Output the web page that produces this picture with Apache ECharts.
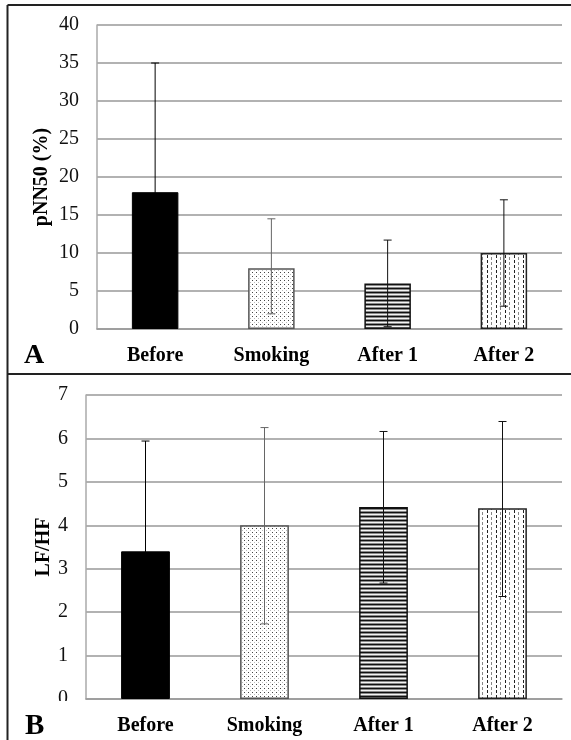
<!DOCTYPE html>
<html>
<head>
<meta charset="utf-8">
<script src="https://cdn.jsdelivr.net/npm/echarts@6/dist/echarts.min.js"></script>
<style>
html,body{margin:0;padding:0;background:#fff;}
#chart{width:571px;height:740px;}
</style>
</head>
<body>
<div id="chart"></div>
<script>
// ---- data ----
var categories = ['Before', 'Smoking', 'After 1', 'After 2'];
var pnn50Mean  = [18, 8, 6, 10];
var pnn50Upper = [35, 14.5, 11.7, 17];
var pnn50Lower = [1, 2, 0.3, 3];
var lfhfMean   = [3.4, 4.0, 4.42, 4.39];
var lfhfUpper  = [5.94, 6.25, 6.16, 6.39];
var lfhfLower  = [0.86, 1.73, 2.67, 2.36];
var yAxisA = {min: 0, max: 40, interval: 5, name: 'pNN50 (%)'};
var yAxisB = {min: 0, max: 7, interval: 1, name: 'LF/HF'};

// ---- patterns ----
function tile(w, h, draw) {
  var c = document.createElement('canvas');
  c.width = w; c.height = h;
  var ctx = c.getContext('2d');
  ctx.fillStyle = '#fff'; ctx.fillRect(0, 0, w, h);
  draw(ctx);
  return {image: c, repeat: 'repeat'};
}
var dotPattern = tile(4, 4, function (ctx) {
  ctx.fillStyle = '#444'; ctx.fillRect(0, 0, 1, 1);
  ctx.fillStyle = '#bbb'; ctx.fillRect(2, 2, 1, 1);
});
var stripePattern = tile(1, 4, function (ctx) {
  ctx.fillStyle = '#111'; ctx.fillRect(0, 0, 1, 1);
  ctx.fillStyle = '#8a8a8a'; ctx.fillRect(0, 1, 1, 1);
  ctx.fillStyle = '#f4f4f4'; ctx.fillRect(0, 2, 1, 1);
  ctx.fillStyle = '#8a8a8a'; ctx.fillRect(0, 3, 1, 1);
});
var dashPattern = tile(9, 5, function (ctx) {
  ctx.fillStyle = '#222'; ctx.fillRect(1, 0, 1, 3);
  ctx.fillStyle = '#888'; ctx.fillRect(5, 2, 1, 3);
});
var barStyles = [
  {color: '#000', borderColor: '#000', borderWidth: 1},
  {color: dotPattern, borderColor: '#555', borderWidth: 1.5},
  {color: stripePattern, borderColor: '#111', borderWidth: 1.5},
  {color: dashPattern, borderColor: '#222', borderWidth: 1.5}
];
var errColors = ['#000', '#666', '#111', '#111'];

function barData(vals) {
  return vals.map(function (v, i) { return {value: v, itemStyle: barStyles[i]}; });
}
function errData(lo, hi) {
  return lo.map(function (l, i) { return [i, l, hi[i]]; });
}
function renderErr(params, api) {
  var i = api.value(0);
  var lo = api.coord([i, api.value(1)]);
  var hi = api.coord([i, api.value(2)]);
  var hw = 4;
  var st = {stroke: errColors[i], lineWidth: 1};
  return {
    type: 'group',
    children: [
      {type: 'line', shape: {x1: lo[0], y1: lo[1], x2: hi[0], y2: hi[1]}, style: st},
      {type: 'line', shape: {x1: hi[0] - hw, y1: hi[1], x2: hi[0] + hw, y2: hi[1]}, style: st},
      {type: 'line', shape: {x1: lo[0] - hw, y1: lo[1], x2: lo[0] + hw, y2: lo[1]}, style: st}
    ]
  };
}

var font = 'Liberation Serif';
function xAxisCfg(gi, margin) {
  return {
    type: 'category', gridIndex: gi, data: categories,
    axisLine: {lineStyle: {color: '#999', width: 1.5}},
    axisTick: {show: false},
    axisLabel: {color: '#000', fontFamily: font, fontWeight: 'bold', fontSize: 20, margin: margin}
  };
}
function yAxisCfg(gi, cfg, nameGap) {
  return {
    type: 'value', gridIndex: gi, min: cfg.min, max: cfg.max, interval: cfg.interval,
    name: cfg.name, nameLocation: 'middle', nameRotate: 90, nameGap: nameGap,
    nameMoveOverlap: false,
    nameTextStyle: {color: '#000', fontFamily: font, fontWeight: 'bold', fontSize: 20},
    axisLine: {show: true, lineStyle: {color: '#aaa', width: 1.5}},
    axisTick: {show: false},
    splitLine: {lineStyle: {color: '#999', width: 1.5}},
    axisLabel: {color: '#111', fontFamily: font, fontSize: 20, margin: 18}
  };
}

var chart = echarts.init(document.getElementById('chart'), null, {renderer: 'canvas'});
chart.setOption({
  backgroundColor: '#fff',
  animation: false,
  grid: [
    {left: 97, top: 25, width: 465, height: 304},
    {left: 86, top: 395, width: 476, height: 304}
  ],
  xAxis: [xAxisCfg(0, 17), xAxisCfg(1, 17)],
  yAxis: [yAxisCfg(0, yAxisA, 45), yAxisCfg(1, yAxisB, 32)],
  series: [
    {type: 'bar', xAxisIndex: 0, yAxisIndex: 0, barWidth: '40%', data: barData(pnn50Mean)},
    {type: 'custom', xAxisIndex: 0, yAxisIndex: 0, renderItem: renderErr, data: errData(pnn50Lower, pnn50Upper), z: 5},
    {type: 'bar', xAxisIndex: 1, yAxisIndex: 1, barWidth: '41%', data: barData(lfhfMean)},
    {type: 'custom', xAxisIndex: 1, yAxisIndex: 1, renderItem: renderErr, data: errData(lfhfLower, lfhfUpper), z: 5}
  ],
  graphic: [
    {type: 'line', shape: {x1: 7.5, y1: 5, x2: 571, y2: 5}, style: {stroke: '#222', lineWidth: 2}},
    {type: 'line', shape: {x1: 7.5, y1: 5, x2: 7.5, y2: 740}, style: {stroke: '#222', lineWidth: 2}},
    {type: 'line', shape: {x1: 7.5, y1: 374, x2: 571, y2: 374}, style: {stroke: '#222', lineWidth: 2}},
    {type: 'rect', shape: {x: 40, y: 701, width: 42, height: 12}, style: {fill: '#fff'}, z: 100},
    {type: 'text', left: 24, top: 342, style: {text: 'A', fontFamily: font, fontWeight: 'bold', fontSize: 28, fill: '#000'}},
    {type: 'text', left: 25, top: 712, style: {text: 'B', fontFamily: font, fontWeight: 'bold', fontSize: 29, fill: '#000'}}
  ]
});
</script>
</body>
</html>
